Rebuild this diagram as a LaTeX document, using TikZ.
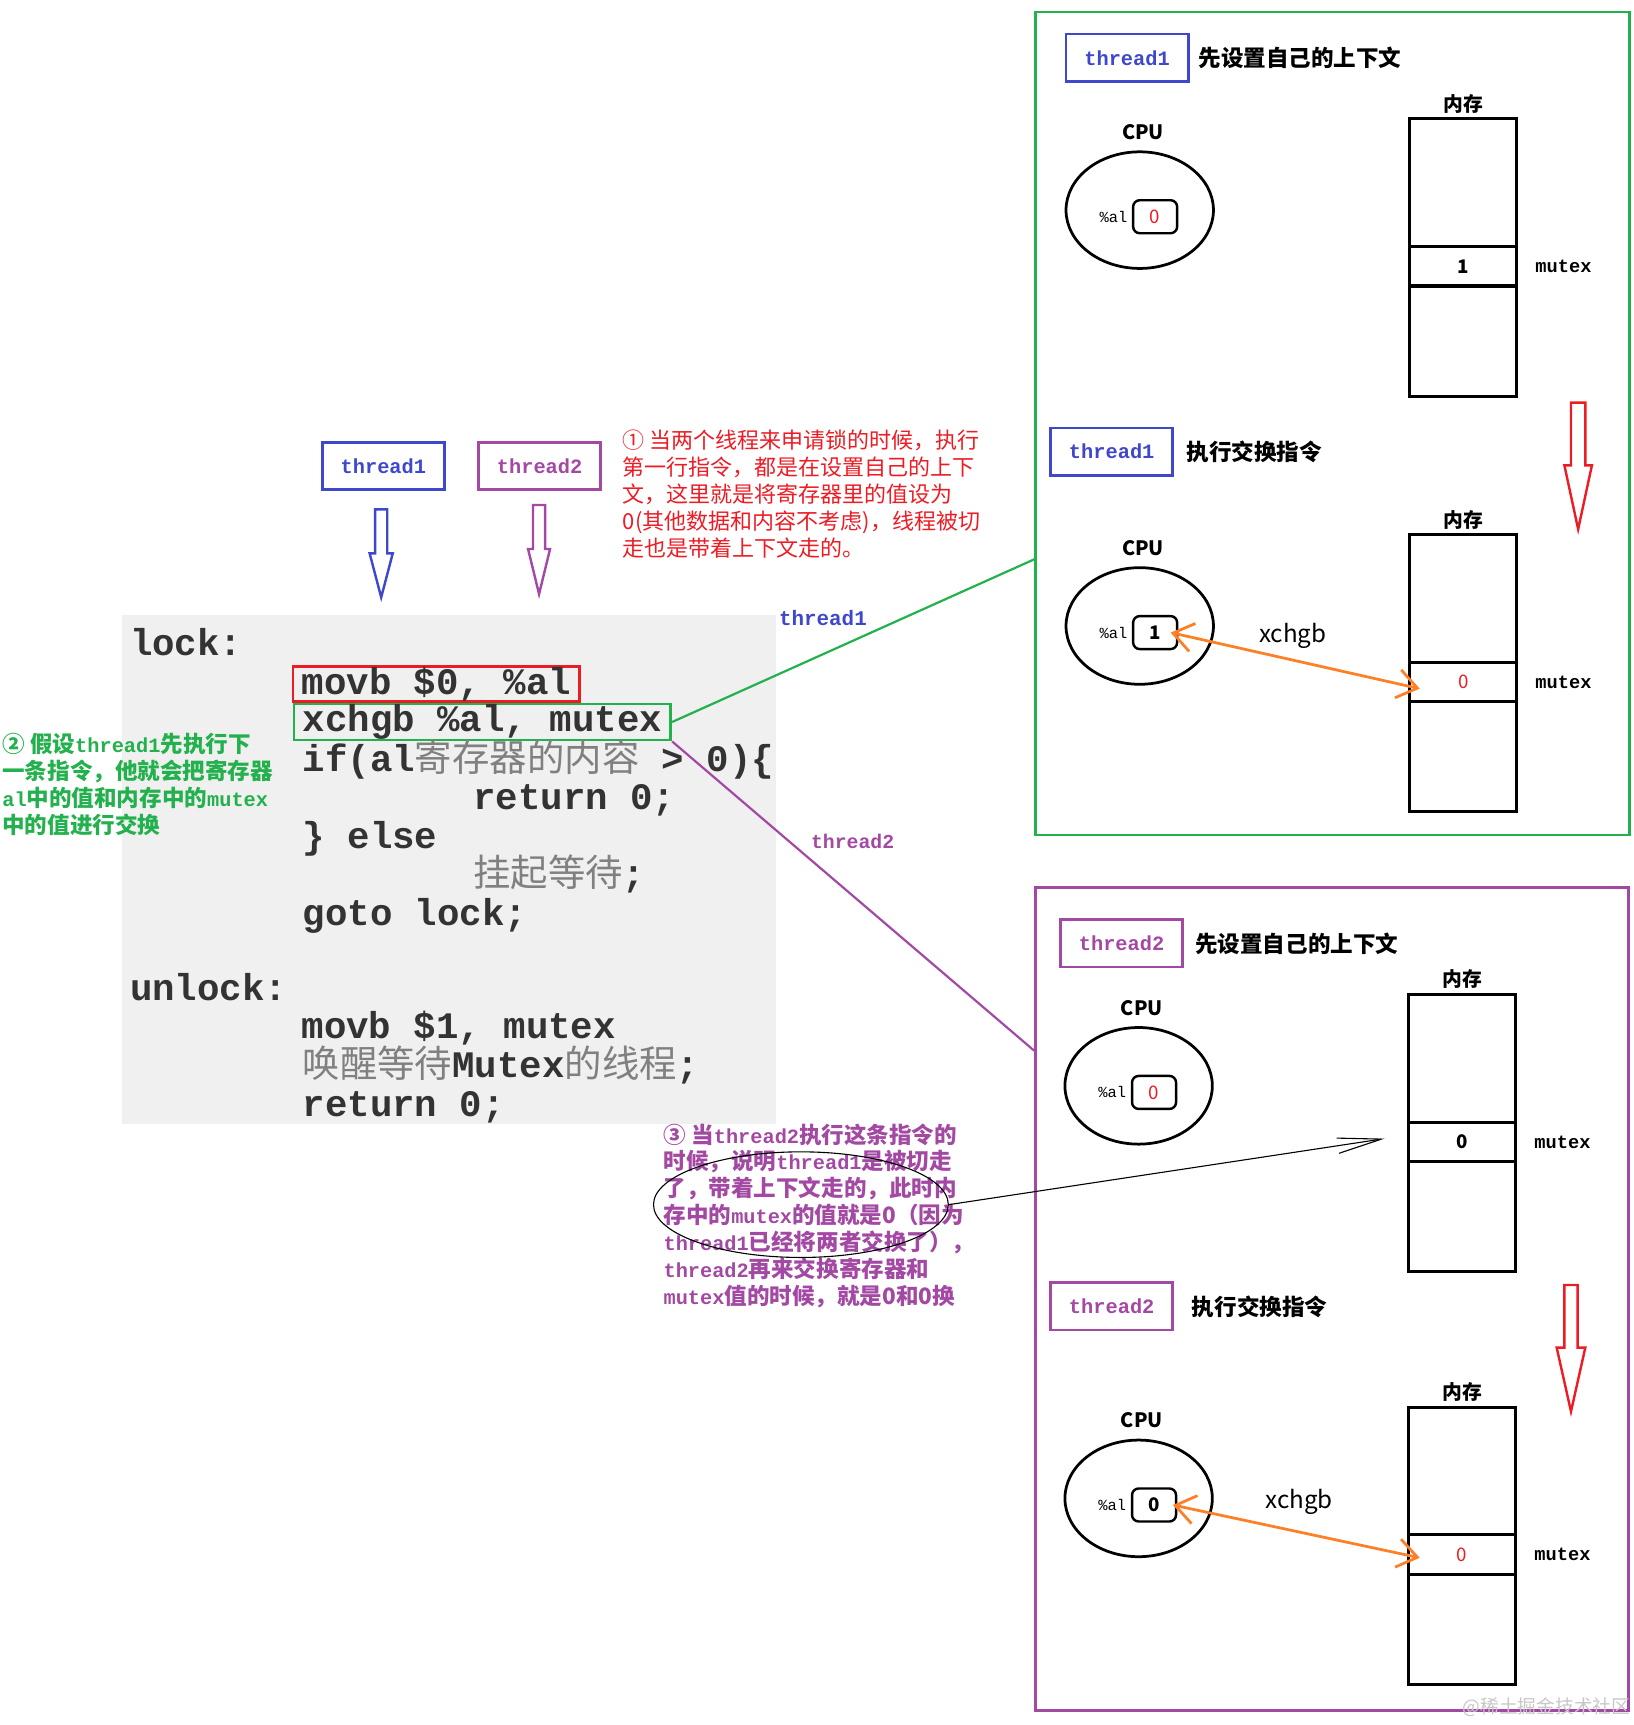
\documentclass[tikz,border=0pt]{standalone}
\usepackage{fontspec}
\usepackage{xcolor}
\usepackage{tikz}
\usetikzlibrary{arrows.meta,positioning,shapes.geometric}

\newfontfamily\cjk{Noto Sans CJK SC}
\newfontfamily\mono{Liberation Mono}
\newfontfamily\latn{Liberation Mono}[Scale=0.9]
\newcommand{\lat}[1]{{\latn #1}}
\newcommand{\fsz}[1]{\fontsize{#1}{#1}\selectfont}
\newcommand{\zhg}[1]{{\cjk\mdseries\color{black!50}#1}}

\definecolor{pgreen}{RGB}{34,177,76}
\definecolor{pblue}{RGB}{63,72,204}
\definecolor{ppurple}{RGB}{163,73,164}
\definecolor{pred}{RGB}{237,28,36}
\definecolor{porange}{RGB}{255,127,39}
\definecolor{codebg}{RGB}{240,240,240}

% CPU with register %al, memory column with the mutex cell
\newcommand{\cpumem}[5]{%
  \node[cpu] (#1cpu) at (#2,#3) {};
  \node[lbl] (#1cpul) at (#2+3,#3-71) {CPU};
  \node[reg] (#1reg) at (#2+14,#3+6) {#4};
  \node[al, left=4pt of #1reg] (#1al) {\%al};
  \node[cell, minimum height=116] (#1top) at (#2+294,#3-25) {};
  \node[cell, minimum height=36, below=0pt of #1top] (#1mid) {#5};
  \node[cell, minimum height=100, below=0pt of #1mid] (#1bot) {};
  \node[lbl, above=5pt of #1top] (#1mem) {内存};
  \node[mutex, right=17pt of #1mid] (#1mx) {mutex};
}

\begin{document}
\begin{tikzpicture}[x=1pt, y=-1pt,
            tbox/.style={draw, line width=2.5, minimum width=111, minimum height=43, inner sep=0,
                 font=\mono\bfseries\fsz{18.5}},
            task/.style={font=\cjk\bfseries\fsz{20.5}, inner sep=0, anchor=west},
            lbl/.style={font=\cjk\bfseries\fsz{18}, inner sep=0},
            cpu/.style={draw, ellipse, line width=2.5, minimum width=134, minimum height=106, inner sep=0},
            reg/.style={draw, rounded corners=6, line width=2.2, minimum width=40, minimum height=30,
                 inner sep=0, font=\cjk\fsz{17}},
            al/.style={font=\mono\fsz{14}, inner sep=0},
            cell/.style={draw, line width=2.8, minimum width=97, inner sep=0, outer sep=0, font=\cjk\fsz{17}},
            mutex/.style={font=\mono\bfseries\fsz{17}, inner sep=0},
            code/.style={anchor=base west, inner sep=0, font=\mono\bfseries\frenchspacing\fsz{34}, text=black!80},
            hl/.style={draw, line width=2.5, inner xsep=8, inner ysep=0.5},
            note/.style={anchor=north west, align=left, inner sep=0},
            xchg arrow/.style={porange, line width=2.5,
                 {Straight Barb[length=18pt,width=26pt]}-{Straight Barb[length=18pt,width=26pt]}},
            hollow/.style={line width=2.2, line join=miter}
            ]
  \useasboundingbox (0,0) rectangle (1485,1568);

  % Frames and code background
  \draw[pgreen, line width=2.5] (941,11) rectangle (1481,759);
  \draw[ppurple, line width=2.5] (941,807) rectangle (1480,1555);
  \fill[codebg] (111,559) rectangle (705,1022);

  % Code
  \node[code] (lock) at (118,596) {lock:};
  \node[code, hl, draw=pred] (movb) at (265,631) {movb \$0, \%al};
  \node[code, hl, draw=pgreen] (xchg) at (266,665) {xchgb \%al, mutex};
  \node[code] (if) at (275,701) {if(al\zhg{寄存器的内容} > 0)\{};
  \node[code] (ret) at (430,736) {return 0;};
  \node[code] (else) at (275,771) {\} else};
  \node[code] (wait) at (430,806) {\zhg{挂起等待};};
  \node[code] (goto) at (275,841) {goto lock;};
  \node[code] (unlock) at (118,909) {unlock:};
  \node[code] (movb1) at (274,944) {movb \$1, mutex};
  \node[code] (wake) at (275,979) {\zhg{唤醒等待}Mutex\zhg{的线程};};
  \node[code] (ret1) at (275,1015) {return 0;};

  % Threads on the left
  \node[tbox, draw=pblue, text=pblue] (t1) at (348.5,423.5) {thread1};
  \node[tbox, draw=ppurple, text=ppurple] (t2) at (490.5,423.5) {thread2};
  \draw[hollow, pblue] (341,463) -- (352,463) -- (352,503) -- (357,503) -- (346.5,543) -- (336,503) -- (341,503) -- cycle;
  \draw[hollow, ppurple] (484.5,459) -- (495.5,459) -- (495.5,499) -- (500,499) -- (490,540) -- (480,499) -- (484.5,499) -- cycle;

  % Notes
  \node[note, text=pred, font=\cjk\fontsize{20}{24.5}\selectfont] (n1) at (566,391)
    {① 当两个线程来申请锁的时候，执行\\第一行指令，都是在设置自己的上下\\文，这里就是将寄存器里的值设为\\0(其他数据和内容不考虑)，线程被切\\走也是带着上下文走的。};
  \node[note, text=pgreen, font=\cjk\bfseries\fontsize{20.5}{24.5}\selectfont] (n2) at (2,666)
    {② 假设\lat{thread1}先执行下\\一条指令，他就会把寄存器\\\lat{al}中的值和内存中的\lat{mutex}\\中的值进行交换};
  \node[note, text=ppurple, font=\cjk\bfseries\fontsize{20.5}{24.5}\selectfont] (n3) at (603,1021)
    {③ 当\lat{thread2}执行这条指令的\\时候，说明\lat{thread1}是被切走\\了，带着上下文走的，此时内\\存中的\lat{mutex}的值就是0（因为\\\lat{thread1}已经将两者交换了），\\\lat{thread2}再来交换寄存器和\\\lat{mutex}值的时候，就是0和0换};
  \node[draw, ellipse, line width=1, minimum width=268, minimum height=96] (oval) at (728,1095) {};

  % Green frame: thread1
  \node[tbox, draw=pblue, text=pblue] (ta) at (1024.5,52.5) {thread1};
  \node[task, right=8pt of ta] (tat) {先设置自己的上下文};
  \cpumem{a}{1036}{191}{\textcolor{pred}{0}}{\textbf{1}}
  \draw[hollow, pred] (1428,366) -- (1441,366) -- (1441,423) -- (1447,423) -- (1434.5,481) -- (1422,423) -- (1428,423) -- cycle;
  \node[tbox, draw=pblue, text=pblue] (tb) at (1010.5,410.5) {thread1};
  \node[task, right=11pt of tb] (tbt) {执行交换指令};
  \cpumem{b}{1036}{569}{\textbf{1}}{\textcolor{pred}{0}}
  \node[font=\cjk\fsz{22}, inner sep=0] (bx) at (1175,578) {xchgb};

  % Purple frame: thread2
  \node[tbox, draw=ppurple, text=ppurple] (tc) at (1019.5,857.5) {thread2};
  \node[task, right=10pt of tc] (tct) {先设置自己的上下文};
  \cpumem{c}{1035}{987}{\textcolor{pred}{0}}{\textbf{0}}
  \node[tbox, draw=ppurple, text=ppurple] (td) at (1010.5,1187.5) {thread2};
  \node[task, right=16pt of td] (tdt) {执行交换指令};
  \draw[hollow, pred] (1422,1168) -- (1434,1168) -- (1434,1225) -- (1441,1225) -- (1428,1283) -- (1415,1225) -- (1422,1225) -- cycle;
  \cpumem{d}{1035}{1362}{\textbf{0}}{\textcolor{pred}{0}}
  \node[font=\cjk\fsz{22}, inner sep=0] (dx) at (1181,1365) {xchgb};

  % Connectors
  \coordinate (gin) at (941,508);
  \coordinate (pin) at (940,955);
  \draw[pgreen, line width=2] (xchg.east) -- (gin);
  \draw[ppurple, line width=2] (xchg.south east) -- (pin);
  \node[font=\mono\bfseries\fsz{19}, text=pblue, inner sep=0] (l1) at (748,562) {thread1};
  \node[font=\mono\bfseries\fsz{18}, text=ppurple, inner sep=0] (l2) at (775,765) {thread2};
  \draw[xchg arrow] ([xshift=-7pt]breg.east) -- ([xshift=9pt,yshift=-6pt]bmid.west);
  \draw[xchg arrow] ([xshift=-4pt]dreg.east) -- ([xshift=10pt,yshift=-3pt]dmid.west);
  \draw[line width=1, -{Straight Barb[length=40pt,width=14pt]}] (oval.east) -- ([xshift=-22pt,yshift=3pt]cmid.west);

  \node[font=\cjk\fsz{17}, text=black!22, anchor=east, inner sep=0] (wm) at (1482,1552) {@稀土掘金技术社区};
\end{tikzpicture}
\end{document}
